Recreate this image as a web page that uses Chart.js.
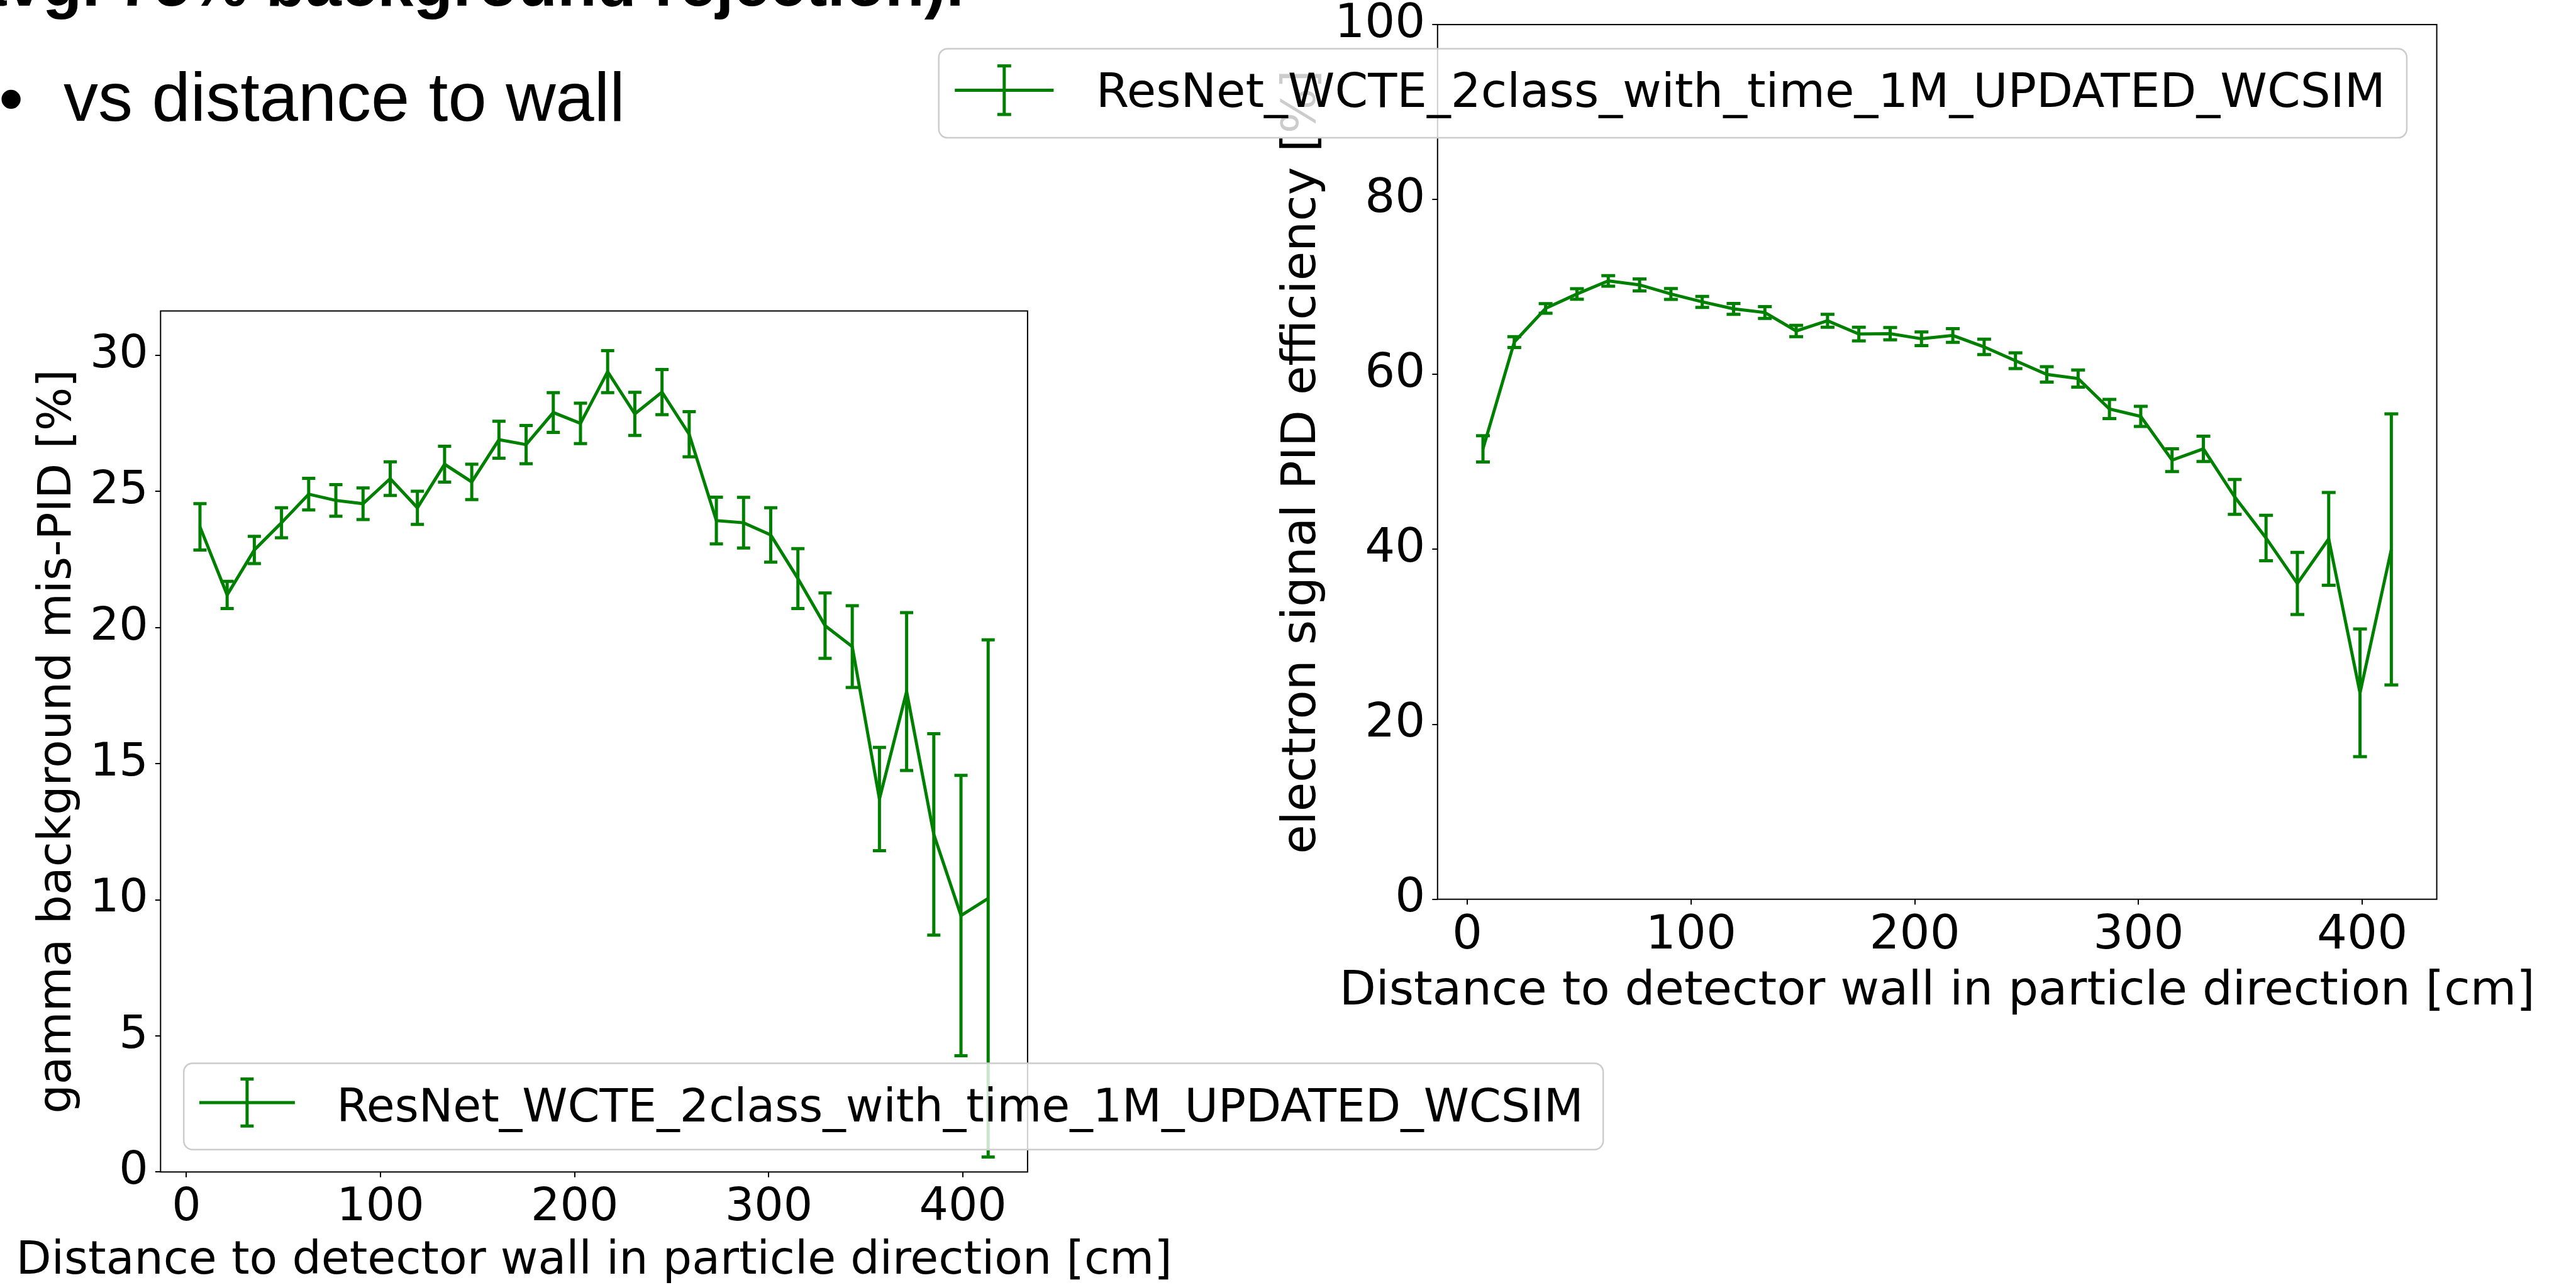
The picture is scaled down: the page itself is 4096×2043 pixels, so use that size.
<!DOCTYPE html>
<html>
<head>
<meta charset="utf-8">
<title>PID vs distance to wall</title>
<script src="https://cdn.jsdelivr.net/npm/chart.js@4.4.1/dist/chart.umd.min.js"></script>
<style>
  html, body { margin: 0; padding: 0; background: #fff; }
  body { width: 4096px; height: 2043px; position: relative; overflow: hidden;
         font-family: "Liberation Sans", Arial, sans-serif; color: #000; }
  .slide-line { position: absolute; white-space: nowrap; line-height: 1; }
  .top-line    { left: -47px; top: -78px; font-size: 103px; font-weight: bold; }
  .bullet      { left: -2px;  top: 101px; font-size: 112px; }
  .bullet-text { left: 101px; top: 99px;  font-size: 110px; }
  .chart-box { position: absolute; }
  #gamma-box    { left: 0;      top: 430px; width: 2700px; height: 1613px; }
  #electron-box { left: 1400px; top: 0;     width: 2696px; height: 1660px; }
</style>
</head>
<body>
  <div class="slide-line top-line">avg. 75% background rejection).</div>
  <div class="slide-line bullet">•</div>
  <div class="slide-line bullet-text">vs distance to wall</div>

  <div class="chart-box" id="gamma-box"><canvas id="gamma-chart" width="2700" height="1613"></canvas></div>
  <div class="chart-box" id="electron-box"><canvas id="electron-chart" width="2696" height="1660"></canvas></div>

<script>
// ─── Data ─────────────────────────────────────────────────────────────────────
const LEGEND_LABEL = 'ResNet_WCTE_2class_with_time_1M_UPDATED_WCSIM';

const distance = [7, 21, 35, 49, 63, 77, 91, 105, 119, 133, 147, 161, 175, 189, 203,
                  217, 231, 245, 259, 273, 287, 301, 315, 329, 343, 357, 371, 385, 399, 413];

// gamma background mis-PID [%]
const gammaMisPID = [23.7, 21.2, 22.85, 23.85, 24.9, 24.67, 24.55, 25.47, 24.4, 26.0,
                     25.35, 26.9, 26.72, 27.9, 27.5, 29.4, 27.85, 28.65, 27.1, 23.93,
                     23.85, 23.4, 21.8, 20.07, 19.3, 13.7, 17.65, 12.4, 9.42, 10.05];
const gammaErr = [0.85, 0.5, 0.5, 0.55, 0.58, 0.58, 0.58, 0.62, 0.61, 0.66,
                  0.65, 0.68, 0.7, 0.73, 0.74, 0.77, 0.79, 0.83, 0.83, 0.86,
                  0.93, 1.0, 1.1, 1.2, 1.5, 1.9, 2.9, 3.7, 5.15, 9.5];

// electron signal PID efficiency [%]
const electronEff = [51.5, 63.7, 67.55, 69.2, 70.7, 70.24, 69.2, 68.3, 67.5, 67.08,
                     64.97, 66.14, 64.62, 64.66, 64.08, 64.46, 63.15, 61.57, 60.0, 59.53,
                     56.05, 55.2, 50.2, 51.5, 46.0, 41.3, 36.1, 41.2, 23.6, 40.0];
const electronErr = [1.5, 0.62, 0.55, 0.6, 0.6, 0.68, 0.62, 0.63, 0.62, 0.68,
                     0.65, 0.74, 0.78, 0.7, 0.78, 0.78, 0.88, 0.9, 0.88, 0.98,
                     1.1, 1.15, 1.3, 1.45, 2.0, 2.6, 3.55, 5.3, 7.3, 15.5];

// Axis limits and ticks
const xLimits = [-13.3, 433.3];
const xTicks = [0, 100, 200, 300, 400];
const gammaLimits = [0, 31.63];
const gammaTicks = [0, 5, 10, 15, 20, 25, 30];
const electronLimits = [0, 100];
const electronTicks = [0, 20, 40, 60, 80, 100];

const GREEN = '#008000';
const LINE_W = 5;
const FONT = '"DejaVu Sans", "Liberation Sans", sans-serif';

// ─── Plugins ──────────────────────────────────────────────────────────────────
// Vertical error bars with caps (matplotlib errorbar look)
const errorBars = {
  id: 'errorBars',
  afterDatasetsDraw(chart, args, o) {
    const { ctx, scales: { x, y } } = chart;
    const pts = chart.data.datasets[0].data;
    ctx.save();
    ctx.strokeStyle = GREEN;
    ctx.lineWidth = o.lineWidth;
    pts.forEach((p, i) => {
      const px = x.getPixelForValue(p.x);
      const hi = y.getPixelForValue(p.y + o.errors[i]);
      const lo = y.getPixelForValue(p.y - o.errors[i]);
      ctx.beginPath();
      ctx.moveTo(px, hi); ctx.lineTo(px, lo);
      ctx.moveTo(px - o.cap, hi); ctx.lineTo(px + o.cap, hi);
      ctx.moveTo(px - o.cap, lo); ctx.lineTo(px + o.cap, lo);
      ctx.stroke();
    });
    ctx.restore();
  }
};

// Frame, axis titles (not squeezed to axis width) and the legend box
const decor = {
  id: 'decor',
  afterDraw(chart, args, o) {
    const { ctx, chartArea: a } = chart;
    ctx.save();

    ctx.strokeStyle = '#000';
    ctx.lineWidth = 2;
    ctx.strokeRect(a.left, a.top, a.right - a.left, a.bottom - a.top);

    ctx.fillStyle = '#000';
    ctx.font = `${o.fontSize}px ${FONT}`;
    ctx.textAlign = 'center';
    ctx.textBaseline = 'alphabetic';
    ctx.fillText(o.xTitle, (a.left + a.right) / 2, a.bottom + o.xTitleOffset);

    ctx.save();
    ctx.translate(a.left - o.yTitleOffset, (a.top + a.bottom) / 2);
    ctx.rotate(-Math.PI / 2);
    ctx.fillText(o.yTitle, 0, 0);
    ctx.restore();

    // legend
    const lg = o.legend;
    ctx.font = `${lg.size}px ${FONT}`;
    const tw = ctx.measureText(LEGEND_LABEL).width;
    const w = lg.textDx + tw + lg.padRight;
    ctx.beginPath();
    if (ctx.roundRect) ctx.roundRect(lg.x, lg.y, w, lg.h, lg.r);
    else ctx.rect(lg.x, lg.y, w, lg.h);
    ctx.fillStyle = 'rgba(255,255,255,0.8)';
    ctx.fill();
    ctx.strokeStyle = '#cccccc';
    ctx.lineWidth = 2.5;
    ctx.stroke();

    const cy = lg.y + lg.handleDy;
    const bx = lg.x + (lg.h0 + lg.h1) / 2;
    ctx.strokeStyle = GREEN;
    ctx.lineWidth = o.lineWidth;
    ctx.beginPath();
    ctx.moveTo(lg.x + lg.h0, cy); ctx.lineTo(lg.x + lg.h1, cy);
    ctx.moveTo(bx, cy - lg.capDy); ctx.lineTo(bx, cy + lg.capDy);
    ctx.moveTo(bx - o.cap, cy - lg.capDy); ctx.lineTo(bx + o.cap, cy - lg.capDy);
    ctx.moveTo(bx - o.cap, cy + lg.capDy); ctx.lineTo(bx + o.cap, cy + lg.capDy);
    ctx.stroke();

    ctx.fillStyle = '#000';
    ctx.textAlign = 'left';
    ctx.fillText(LEGEND_LABEL, lg.x + lg.textDx, lg.y + lg.baseDy);
    ctx.restore();
  }
};

// ─── Chart builder ────────────────────────────────────────────────────────────
function makeChart(canvasId, cfg) {
  const tickFont = { family: FONT, size: cfg.fontSize };
  const gridOpts = { drawOnChartArea: false, drawTicks: true, tickLength: 8.5, color: '#000', lineWidth: 2 };

  return new Chart(document.getElementById(canvasId), {
    type: 'line',
    data: {
      datasets: [{
        label: LEGEND_LABEL,
        data: distance.map((d, i) => ({ x: d, y: cfg.values[i] })),
        borderColor: GREEN,
        borderWidth: LINE_W,
        pointRadius: 0,
        tension: 0,
        fill: false,
      }],
    },
    options: {
      responsive: false,
      animation: false,
      layout: { padding: cfg.padding },
      plugins: {
        legend: { display: false },
        tooltip: { enabled: false },
        errorBars: { errors: cfg.errors, lineWidth: LINE_W, cap: cfg.cap },
        decor: {
          fontSize: cfg.fontSize,
          lineWidth: LINE_W,
          cap: cfg.cap,
          xTitle: 'Distance to detector wall in particle direction [cm]',
          yTitle: cfg.yTitle,
          xTitleOffset: cfg.xTitleOffset,
          yTitleOffset: cfg.yTitleOffset,
          legend: cfg.legend,
        },
      },
      scales: {
        x: {
          type: 'linear',
          min: xLimits[0],
          max: xLimits[1],
          afterBuildTicks: s => { s.ticks = xTicks.map(v => ({ value: v })); },
          afterFit: s => { s.height = cfg.xAxisH; s.paddingLeft = 0; s.paddingRight = 0; },
          ticks: { color: '#000', font: tickFont, padding: 5, maxRotation: 0, autoSkip: false },
          grid: gridOpts,
          border: { display: false },
        },
        y: {
          type: 'linear',
          min: cfg.limits[0],
          max: cfg.limits[1],
          afterBuildTicks: s => { s.ticks = cfg.ticks.map(v => ({ value: v })); },
          afterFit: s => { s.width = cfg.yAxisW; s.paddingTop = 0; s.paddingBottom = 0; },
          ticks: { color: '#000', font: tickFont, padding: 11, autoSkip: false },
          grid: gridOpts,
          border: { display: false },
        },
      },
    },
    plugins: [errorBars, decor],
  });
}

// Left: gamma background mis-PID
makeChart('gamma-chart', {
  values: gammaMisPID,
  errors: gammaErr,
  limits: gammaLimits,
  ticks: gammaTicks,
  yTitle: 'gamma background mis-PID [%]',
  fontSize: 73,
  cap: 10.5,
  padding: { left: 0, top: 64.4, right: 1066.1, bottom: 0 },
  yAxisW: 255.3,
  xAxisH: 179.7,
  xTitleOffset: 161.7,
  yTitleOffset: 143.2,
  legend: { x: 292.2, y: 1260.4, h: 137.4, r: 14, size: 73, h0: 24.7, h1: 176.7,
            handleDy: 62.5, capDy: 37.4, textDx: 243.1, baseDy: 92.2, padRight: 31.5 },
});

// Right: electron signal PID efficiency
makeChart('electron-chart', {
  values: electronEff,
  errors: electronErr,
  limits: electronLimits,
  ticks: electronTicks,
  yTitle: 'electron signal PID efficiency [%]',
  fontSize: 75.5,
  cap: 11,
  padding: { left: 600, top: 39.1, right: 221.4, bottom: 0 },
  yAxisW: 285.8,
  xAxisH: 230.3,
  xTitleOffset: 167.6,
  yTitleOffset: 194.9,
  legend: { x: 92.7, y: 77.4, h: 141.7, r: 14, size: 75.5, h0: 25.5, h1: 182.7,
            handleDy: 66, capDy: 38.7, textDx: 250, baseDy: 92.5, padRight: 34 },
});
</script>
</body>
</html>
